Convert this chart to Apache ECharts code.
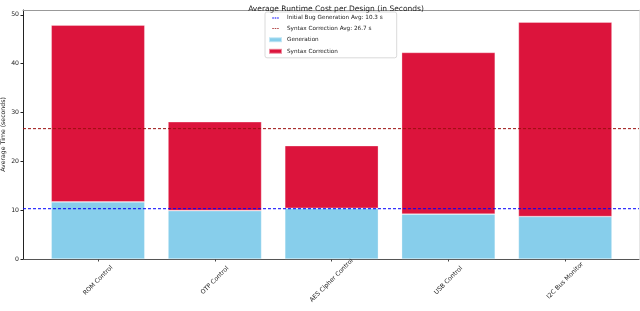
<!DOCTYPE html>
<html>
<head>
<meta charset="utf-8">
<script src="https://cdn.jsdelivr.net/npm/echarts@6/dist/echarts.min.js"></script>
<style>html,body{margin:0;padding:0;background:#fff}#c{width:640px;height:311px}</style>
</head>
<body>
<div id="c"></div>
<script>
const categories = ["ROM Control", "OTP Control", "AES Cipher Control", "USB Control", "I2C Bus Monitor"];
const generation = [11.7, 9.9, 10.4, 9.2, 8.7];
const syntaxCorrection = [36.2, 18.2, 12.8, 33.1, 39.8];
const genAvg = 10.3;
const syntaxAvg = 26.7;

const font = "DejaVu Sans";
const genAvgName = 'Initial Bug Generation Avg: ' + genAvg + ' s';
const synAvgName = 'Syntax Correction Avg: ' + syntaxAvg + ' s';
const dashIcon = 'path://M0,0h0.01v0.01h-0.01z M0,10h0.01v0.01h-0.01z M0,4.2h3.2v1.6h-3.2z M4.9,4.2h3.2v1.6h-3.2z M9.8,4.2h3.2v1.6h-3.2z';

const chart = echarts.init(document.getElementById('c'), null, {renderer: 'canvas'});
chart.setOption({
  animation: false,
  backgroundColor: '#fff',
  textStyle: {fontFamily: font},
  title: {
    text: 'Average Runtime Cost per Design (in Seconds)',
    left: 331, top: 0, textAlign: 'center',
    textStyle: {fontFamily: font, fontSize: 7.5, fontWeight: 'normal', color: '#222'}
  },
  legend: {
    orient: 'vertical', left: 265, top: 12,
    padding: [3, 14, 3, 3],
    itemWidth: 13, itemHeight: 5, itemGap: 4.6,
    borderColor: '#d0d0d0', borderWidth: 0.8, borderRadius: 2,
    backgroundColor: '#fff',
    textStyle: {fontFamily: font, fontSize: 5.7, color: '#222'},
    data: [
      {name: genAvgName, icon: dashIcon, itemStyle: {color: '#0000ff'}},
      {name: synAvgName, icon: dashIcon, itemStyle: {color: '#9b1010'}},
      {name: 'Generation', icon: 'rect'},
      {name: 'Syntax Correction', icon: 'rect'}
    ]
  },
  grid: [
    {left: 39.6, width: 584, top: 10, bottom: 52, containLabel: false, outerBoundsMode: 'none'},
    {left: 23, right: 1, top: 10, bottom: 52, containLabel: false, outerBoundsMode: 'none'}
  ],
  xAxis: [{
    type: 'category', gridIndex: 0, data: categories,
    axisLine: {show: false},
    splitLine: {show: false},
    axisTick: {show: true, alignWithLabel: true, length: 2.5, lineStyle: {color: '#444'}},
    axisLabel: {
      interval: 0, rotate: 45, align: 'center', verticalAlign: 'middle', margin: 21.5,
      fontFamily: font, fontSize: 6.2, color: '#222'
    }
  }, {
    type: 'value', gridIndex: 1, min: 0, max: 1, position: 'bottom',
    axisLine: {show: true, onZero: false, lineStyle: {color: '#555', width: 1}},
    axisTick: {show: false}, axisLabel: {show: false}, splitLine: {show: false}
  }, {
    type: 'value', gridIndex: 1, min: 0, max: 1, position: 'top',
    axisLine: {show: true, onZero: false, lineStyle: {color: '#999', width: 1}},
    axisTick: {show: false}, axisLabel: {show: false}, splitLine: {show: false}
  }],
  yAxis: [{
    type: 'value', gridIndex: 0, min: 0, max: 51,
    axisLine: {show: false}, axisTick: {show: false}, axisLabel: {show: false}, splitLine: {show: false}
  }, {
    type: 'value', gridIndex: 1, min: 0, max: 51, interval: 10, position: 'left',
    name: 'Average Time (seconds)', nameLocation: 'middle', nameGap: 17, nameMoveOverlap: false,
    nameTextStyle: {fontFamily: font, fontSize: 6.2, color: '#222'},
    axisLine: {show: true, onZero: false, lineStyle: {color: '#222', width: 1}},
    axisTick: {show: true, length: 2.5, lineStyle: {color: '#222'}},
    axisLabel: {fontFamily: font, fontSize: 6.2, color: '#222', margin: 4, showMaxLabel: false},
    splitLine: {show: false}
  }, {
    type: 'value', gridIndex: 1, min: 0, max: 51, position: 'right',
    axisLine: {show: true, onZero: false, lineStyle: {color: '#e6e6e6', width: 1}},
    axisTick: {show: false}, axisLabel: {show: false}, splitLine: {show: false}
  }],
  series: [
    {
      name: 'Generation', type: 'bar', stack: 'total', barWidth: 93.5,
      xAxisIndex: 0, yAxisIndex: 0,
      itemStyle: {color: '#87CEEB', borderColor: 'rgba(255,255,255,0.5)', borderWidth: 0.6},
      data: generation
    },
    {
      name: 'Syntax Correction', type: 'bar', stack: 'total', barWidth: 93.5,
      xAxisIndex: 0, yAxisIndex: 0,
      itemStyle: {color: '#DC143C', borderColor: 'rgba(255,255,255,0.5)', borderWidth: 0.6},
      data: syntaxCorrection
    },
    {
      name: genAvgName, type: 'line', symbol: 'none', z: 5,
      xAxisIndex: 1, yAxisIndex: 1,
      lineStyle: {color: '#0000ff', width: 1, type: [3, 2]}, itemStyle: {color: '#0000ff'},
      data: [[0, genAvg], [1, genAvg]]
    },
    {
      name: synAvgName, type: 'line', symbol: 'none', z: 5,
      xAxisIndex: 1, yAxisIndex: 1,
      lineStyle: {color: '#9b1010', width: 1, type: [3, 2]}, itemStyle: {color: '#9b1010'},
      data: [[0, syntaxAvg], [1, syntaxAvg]]
    }
  ]
});
</script>
</body>
</html>
